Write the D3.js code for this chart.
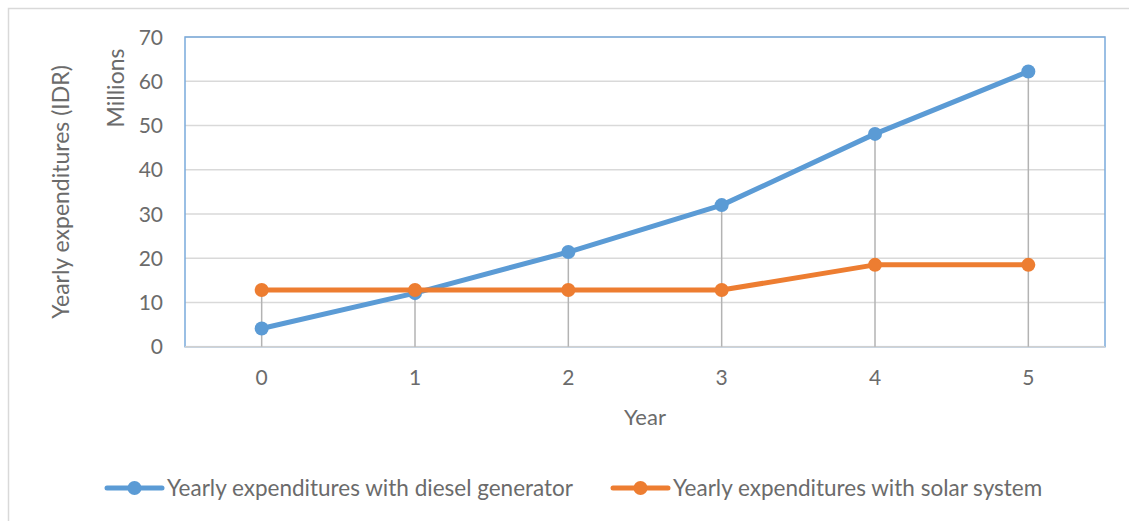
<!DOCTYPE html>
<html>
<head>
<meta charset="utf-8">
<script src="https://cdn.jsdelivr.net/npm/d3@7"></script>
<style>
  body { margin: 0; background: #fff; }
  text { font-family: Lato, "Open Sans", sans-serif; fill: #6b6b6b; }
</style>
</head>
<body>
<svg id="chart"></svg>
<script>
const width = 1129;
const height = 521;

// data
const years = ['0', '1', '2', '3', '4', '5'];
const diesel = [4.1, 12.1, 21.4, 32.0, 48.1, 62.2];
const solar = [12.8, 12.8, 12.8, 12.8, 18.5, 18.5];
const yTicks = [0, 10, 20, 30, 40, 50, 60, 70];
const seriesNames = ['Yearly expenditures with diesel generator', 'Yearly expenditures with solar system'];
const seriesColors = ['#5b9bd5', '#ed7d31'];

const margin = {top: 37, right: 24, bottom: 174.3, left: 185};

const svg = d3.select('#chart')
  .attr('width', width)
  .attr('height', height);

// outer chart frame
svg.append('rect')
  .attr('x', 8.5).attr('y', 8.5)
  .attr('width', width).attr('height', height)
  .attr('fill', 'none')
  .attr('stroke', '#d9d9d9')
  .attr('stroke-width', 1.5);

const x = d3.scalePoint()
  .domain(years)
  .range([margin.left, width - margin.right])
  .padding(0.5);

const y = d3.scaleLinear()
  .domain([0, 70])
  .range([height - margin.bottom, margin.top]);

// gridlines
svg.append('g')
  .selectAll('line')
  .data(yTicks.slice(1))
  .enter().append('line')
  .attr('x1', margin.left).attr('x2', width - margin.right)
  .attr('y1', d => y(d)).attr('y2', d => y(d))
  .attr('stroke', '#d9d9d9')
  .attr('stroke-width', 1.5);

// plot area border
svg.append('rect')
  .attr('x', margin.left).attr('y', margin.top)
  .attr('width', width - margin.right - margin.left)
  .attr('height', y(0) - margin.top)
  .attr('fill', 'none')
  .attr('stroke', '#7aaadb')
  .attr('stroke-width', 1.5);

// x axis line
svg.append('line')
  .attr('x1', margin.left).attr('x2', width - margin.right)
  .attr('y1', y(0)).attr('y2', y(0))
  .attr('stroke', '#d0d0d0')
  .attr('stroke-width', 1.5);

// drop lines
const tops = years.map((d, i) => Math.max(diesel[i], solar[i]));
svg.append('g')
  .selectAll('line')
  .data(years)
  .enter().append('line')
  .attr('x1', d => x(d)).attr('x2', d => x(d))
  .attr('y1', (d, i) => y(tops[i])).attr('y2', y(0))
  .attr('stroke', '#b3b3b3')
  .attr('stroke-width', 1.5);

// y tick labels
svg.append('g')
  .selectAll('text')
  .data(yTicks)
  .enter().append('text')
  .attr('x', 163)
  .attr('y', d => y(d))
  .attr('dy', '0.36em')
  .attr('text-anchor', 'end')
  .style('font-size', '21px')
  .text(d => d);

// x tick labels
svg.append('g')
  .selectAll('text')
  .data(years)
  .enter().append('text')
  .attr('x', d => x(d))
  .attr('y', 385)
  .attr('text-anchor', 'middle')
  .style('font-size', '21px')
  .text(d => d);

svg.append('text')
  .attr('x', 645).attr('y', 425)
  .attr('text-anchor', 'middle')
  .style('font-size', '22px')
  .text('Year');

svg.append('text')
  .attr('transform', 'translate(69,192) rotate(-90)')
  .attr('text-anchor', 'middle')
  .style('font-size', '23px')
  .text('Yearly expenditures (IDR)');

svg.append('text')
  .attr('transform', 'translate(124,88) rotate(-90)')
  .attr('text-anchor', 'middle')
  .style('font-size', '23px')
  .text('Millions');

// series
const series = [diesel, solar];
const line = d3.line()
  .x((d, i) => x(years[i]))
  .y(d => y(d));

series.forEach((vals, s) => {
  const g = svg.append('g');
  g.append('path')
    .datum(vals)
    .attr('d', line)
    .attr('fill', 'none')
    .attr('stroke', seriesColors[s])
    .attr('stroke-width', 5)
    .attr('stroke-linejoin', 'round')
    .attr('stroke-linecap', 'round');
  g.selectAll('circle')
    .data(vals)
    .enter().append('circle')
    .attr('cx', (d, i) => x(years[i]))
    .attr('cy', d => y(d))
    .attr('r', 7)
    .attr('fill', seriesColors[s]);
});

// legend
const legendX = [107, 613];
const legendY = 488;
const legend = svg.append('g')
  .selectAll('g')
  .data(seriesNames)
  .enter().append('g')
  .attr('transform', (d, i) => 'translate(' + legendX[i] + ',' + legendY + ')');

legend.append('line')
  .attr('x1', 0).attr('x2', 55)
  .attr('y1', 0).attr('y2', 0)
  .attr('stroke', (d, i) => seriesColors[i])
  .attr('stroke-width', 5)
  .attr('stroke-linecap', 'round');

legend.append('circle')
  .attr('cx', 27.5).attr('cy', 0)
  .attr('r', 7)
  .attr('fill', (d, i) => seriesColors[i]);

legend.append('text')
  .attr('x', 60)
  .attr('y', 7.5)
  .style('font-size', '22.5px')
  .text(d => d);
</script>
</body>
</html>
